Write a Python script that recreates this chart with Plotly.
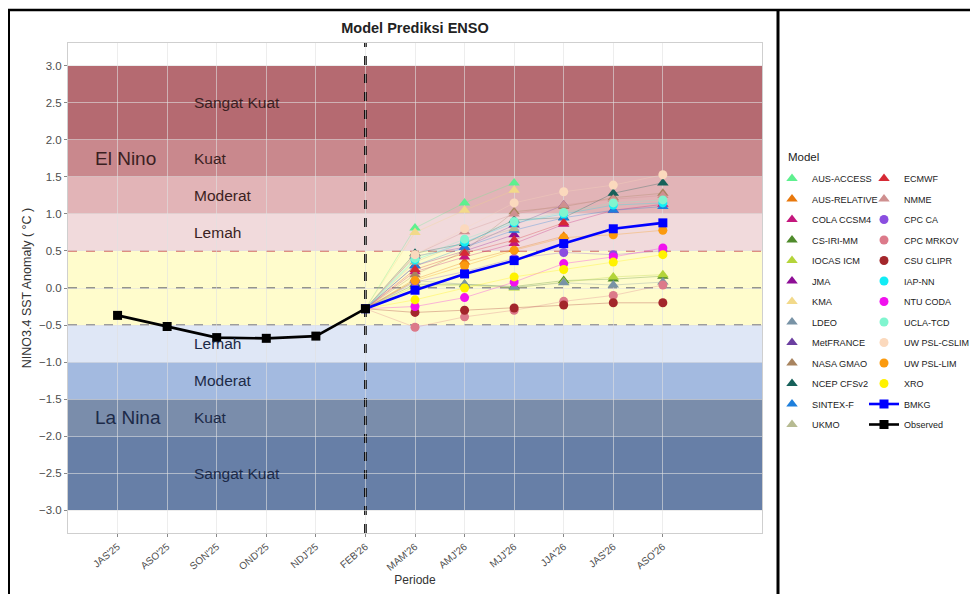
import plotly.graph_objects as go

# ---------------- data ----------------
periods_obs = ["JAS'25", "ASO'25", "SON'25", "OND'25", "NDJ'25", "FEB'26"]
obs_values = [-0.37, -0.52, -0.67, -0.68, -0.65, -0.28]
periods_fcst = ["MAM'26", "AMJ'26", "MJJ'26", "JJA'26", "JAS'26", "ASO'26"]
all_periods = periods_obs + periods_fcst
bmkg_values = [-0.03, 0.19, 0.37, 0.60, 0.80, 0.88]

aus_access = [0.81, 1.15, 1.42, None, None, None]
aus_relative = [0.12, 0.35, 0.52, 0.70, None, None]
cola_ccsm4 = [0.22, 0.42, 0.60, 0.86, 1.05, 1.13]
cs_iri_mm = [0.05, 0.05, 0.02, 0.10, 0.12, 0.16]
iocas_icm = [0.02, 0.04, 0.00, 0.08, 0.15, 0.18]
jma = [0.30, 0.50, 0.72, None, None, None]
kma = [0.75, 1.05, 1.32, None, None, None]
ldeo = [0.10, 0.05, 0.01, 0.07, 0.04, 0.08]
metfrance = [0.43, 0.55, 0.85, 1.12, None, None]
nasa_gmao = [0.18, 0.50, 1.03, 1.10, 1.22, 1.28]
ncep_cfsv2 = [0.47, 0.60, 0.92, 0.95, 1.28, 1.42]
sintex_f = [0.30, 0.55, 0.78, 0.95, 1.05, 1.10]
ukmo = [0.35, 0.62, 0.80, None, None, None]
ecmwf = [0.25, 0.47, 0.65, 0.88, None, None]
nmme = [0.45, 0.76, 1.00, 1.12, 1.20, 1.25]
cpc_ca = [0.08, 0.22, 0.40, 0.48, 0.45, 0.50]
cpc_mrkov = [-0.53, -0.39, -0.30, -0.18, -0.10, 0.04]
csu_clipr = [-0.33, -0.30, -0.27, -0.23, -0.20, -0.20]
iap_nn = [0.38, 0.62, 0.88, 1.00, 1.12, 1.15]
ntu_coda = [-0.25, -0.13, 0.08, 0.33, 0.42, 0.54]
ucla_tcd = [0.40, 0.66, 0.90, 1.02, 1.15, 1.19]
uw_psl_cslim = [0.45, 0.80, 1.15, 1.30, 1.39, 1.53]
uw_psl_lim = [0.10, 0.30, 0.51, 0.68, 0.72, 0.78]
xro = [-0.16, 0.00, 0.15, 0.25, 0.35, 0.45]

band_bounds = [(2.0, 3.0), (1.5, 2.0), (1.0, 1.5), (0.5, 1.0), (-0.5, 0.5),
               (-1.0, -0.5), (-1.5, -1.0), (-2.0, -1.5), (-3.0, -2.0)]
elnino_labels = [("Sangat Kuat", 2.5), ("Kuat", 1.75), ("Moderat", 1.25), ("Lemah", 0.75)]
lanina_labels = [("Lemah", -0.75), ("Moderat", -1.25), ("Kuat", -1.75), ("Sangat Kuat", -2.5)]
y_ticks = [3.0, 2.5, 2.0, 1.5, 1.0, 0.5, 0.0, -0.5, -1.0, -1.5, -2.0, -2.5, -3.0]

# ---------------- styles ----------------
band_colors = ["rgb(181,106,113)", "rgb(201,136,141)", "rgb(226,180,183)", "rgb(241,218,220)",
               "rgb(255,252,204)", "rgb(223,231,246)", "rgb(163,186,224)", "rgb(122,141,171)",
               "rgb(103,127,167)"]

col1 = [
    ("AUS-ACCESS", aus_access, "triangle-up", "#5ef08f"),
    ("AUS-RELATIVE", aus_relative, "triangle-up", "#e8780c"),
    ("COLA CCSM4", cola_ccsm4, "triangle-up", "#c4177d"),
    ("CS-IRI-MM", cs_iri_mm, "triangle-up", "#4f8a2b"),
    ("IOCAS ICM", iocas_icm, "triangle-up", "#b4d43a"),
    ("JMA", jma, "triangle-up", "#8e0e96"),
    ("KMA", kma, "triangle-up", "#f2d98a"),
    ("LDEO", ldeo, "triangle-up", "#7893a6"),
    ("MetFRANCE", metfrance, "triangle-up", "#6b3fa0"),
    ("NASA GMAO", nasa_gmao, "triangle-up", "#a8845f"),
    ("NCEP CFSv2", ncep_cfsv2, "triangle-up", "#17615a"),
    ("SINTEX-F", sintex_f, "triangle-up", "#1e7fdc"),
    ("UKMO", ukmo, "triangle-up", "#b7bb92"),
]
col2 = [
    ("ECMWF", ecmwf, "triangle-up", "#d62a35"),
    ("NMME", nmme, "triangle-up", "#cf9090"),
    ("CPC CA", cpc_ca, "circle", "#8a4ee0"),
    ("CPC MRKOV", cpc_mrkov, "circle", "#dc7a8a"),
    ("CSU CLIPR", csu_clipr, "circle", "#a3262b"),
    ("IAP-NN", iap_nn, "circle", "#12ecf5"),
    ("NTU CODA", ntu_coda, "circle", "#f112ee"),
    ("UCLA-TCD", ucla_tcd, "circle", "#80f5cf"),
    ("UW PSL-CSLIM", uw_psl_cslim, "circle", "#fbd9bd"),
    ("UW PSL-LIM", uw_psl_lim, "circle", "#fb9a0e"),
    ("XRO", xro, "circle", "#fff200"),
]

FONT = "Liberation Sans, Arial, sans-serif"

# page offset (browser body margin) compensation: coordinates below are figure pixels
OFF = 8.0
W, H = 962.0, 586.0
PL, PR, PT, PB = 68.0 - OFF, 762.0 - OFF, 43.0 - OFF, 533.0 - OFF


def px(xp):
    return (xp - OFF - PL) / (PR - PL)


def py(yp):
    return (PB - (yp - OFF)) / (PB - PT)


fig = go.Figure()

# invisible trace to fix categories order
fig.add_trace(go.Scatter(x=all_periods, y=[None] * len(all_periods), mode="markers",
                         showlegend=False, hoverinfo="skip"))

# model connecting lines (from last observed point)
for group in (col1, col2):
    for name, vals, sym, color in group:
        fig.add_trace(go.Scatter(
            x=[periods_obs[-1]] + periods_fcst, y=[obs_values[-1]] + vals,
            mode="lines", line=dict(color=color, width=1), opacity=0.3,
            showlegend=False, hoverinfo="skip"))

for legend_id, group in (("legend", col1), ("legend2", col2)):
    for name, vals, sym, color in group:
        fig.add_trace(go.Scatter(
            x=periods_fcst, y=vals, mode="markers", name=name, legend=legend_id,
            legendgroup=name,
            marker=dict(symbol=sym, color=color, size=10 if sym == "triangle-up" else 9,
                        line=dict(width=0))))

fig.add_trace(go.Scatter(
    x=[periods_obs[-1]] + periods_fcst, y=[obs_values[-1]] + bmkg_values,
    mode="lines+markers", name="BMKG", legend="legend2", legendgroup="BMKG",
    line=dict(color="#0000ff", width=2.6),
    marker=dict(symbol="square", size=9, color="#0000ff")))

fig.add_trace(go.Scatter(
    x=periods_obs, y=obs_values, mode="lines+markers", name="Observed", legend="legend2",
    legendgroup="Observed",
    line=dict(color="black", width=2.6),
    marker=dict(symbol="square", size=9, color="black")))

shapes = []
for (y0, y1), c in zip(band_bounds, band_colors):
    shapes.append(dict(type="rect", xref="x domain", yref="y", x0=0, x1=1, y0=y0, y1=y1,
                       fillcolor=c, line=dict(width=0), layer="below"))
for yv, c, w in ((0.5, "rgb(210,105,105)", 1.4), (0.0, "rgb(115,115,115)", 1.6),
                 (-0.5, "rgb(125,125,140)", 1.4)):
    shapes.append(dict(type="line", xref="x domain", yref="y", x0=0, x1=1, y0=yv, y1=yv,
                       line=dict(color=c, width=w, dash="dash"), layer="below"))
shapes.append(dict(type="line", xref="x", yref="y domain", x0=periods_obs[-1], x1=periods_obs[-1],
                   y0=0, y1=1, line=dict(color="black", width=2.6, dash="dash"), layer="below"))
# outer frame lines (page positions)
shapes.append(dict(type="line", xref="paper", yref="paper", x0=px(8), x1=px(990),
                   y0=py(10), y1=py(10), line=dict(color="black", width=2.5)))
shapes.append(dict(type="line", xref="paper", yref="paper", x0=px(9), x1=px(9),
                   y0=py(10), y1=py(620), line=dict(color="black", width=2)))
shapes.append(dict(type="line", xref="paper", yref="paper", x0=px(778), x1=px(778),
                   y0=py(10), y1=py(620), line=dict(color="black", width=3)))

annotations = []
for txt, yv in elnino_labels:
    annotations.append(dict(x=1.5, y=yv, xref="x", yref="y", text=txt, showarrow=False,
                            xanchor="left", font=dict(size=15.5, color="#3b1f22", family=FONT)))
for txt, yv in lanina_labels:
    annotations.append(dict(x=1.5, y=yv, xref="x", yref="y", text=txt, showarrow=False,
                            xanchor="left", font=dict(size=15.5, color="#1c2a48", family=FONT)))
annotations.append(dict(x=-0.5, y=1.75, xref="x", yref="y", text="El Nino", showarrow=False,
                        xanchor="left", font=dict(size=19, color="#3b1f22", family=FONT)))
annotations.append(dict(x=-0.5, y=-1.75, xref="x", yref="y", text="La Nina", showarrow=False,
                        xanchor="left", font=dict(size=19, color="#1c2a48", family=FONT)))
annotations.append(dict(x=px(786), y=py(157), xref="paper", yref="paper", text="Model",
                        showarrow=False, xanchor="left", yanchor="middle",
                        font=dict(size=11.5, color="#222", family=FONT)))

fig.update_layout(
    width=W, height=H,
    margin=dict(l=PL, r=W - PR, t=PT, b=H - PB, autoexpand=False),
    paper_bgcolor="white", plot_bgcolor="white",
    font=dict(family=FONT, size=10, color="#333"),
    title=dict(text="<b>Model Prediksi ENSO</b>", x=(415 - OFF) / W, xanchor="center",
               y=1 - (28 - OFF) / H, yanchor="middle", font=dict(size=14.5, color="#222", family=FONT)),
    shapes=shapes, annotations=annotations,
    legend=dict(xref="container", yref="container", x=(772 - OFF) / W, y=1 - (164 - OFF) / H,
                xanchor="left", yanchor="top", traceorder="grouped",
                font=dict(size=9.2, color="#222"), tracegroupgap=1.5, itemwidth=30,
                bgcolor="rgba(0,0,0,0)"),
    legend2=dict(xref="container", yref="container", x=(864 - OFF) / W, y=1 - (164 - OFF) / H,
                 xanchor="left", yanchor="top", traceorder="grouped",
                 font=dict(size=9, color="#222"), tracegroupgap=1.5, itemwidth=30,
                 bgcolor="rgba(0,0,0,0)"),
    xaxis=dict(type="category", categoryorder="array", categoryarray=all_periods,
               range=[-1, 13], tickangle=-40, tickfont=dict(size=10, color="#4d4d4d"),
               showgrid=True, gridcolor="rgba(225,225,225,0.6)", gridwidth=1,
               ticks="outside", ticklen=3, tickcolor="#888",
               showline=True, linecolor="#cfcfcf", mirror=True, zeroline=False,
               title=dict(text="Periode", font=dict(size=12, color="#333"), standoff=2)),
    yaxis=dict(range=[-3.31, 3.31], tickvals=y_ticks, tickformat=".1f",
               tickfont=dict(size=11.5, color="#4d4d4d"),
               showgrid=True, gridcolor="rgba(225,225,225,0.6)", gridwidth=1,
               ticks="outside", ticklen=3, tickcolor="#888",
               showline=True, linecolor="#cfcfcf", mirror=True, zeroline=False,
               title=dict(text="NINO3.4 SST Anomaly ( °C )", font=dict(size=12.5, color="#333"),
                          standoff=4)),
)

fig.write_html("out.html")
